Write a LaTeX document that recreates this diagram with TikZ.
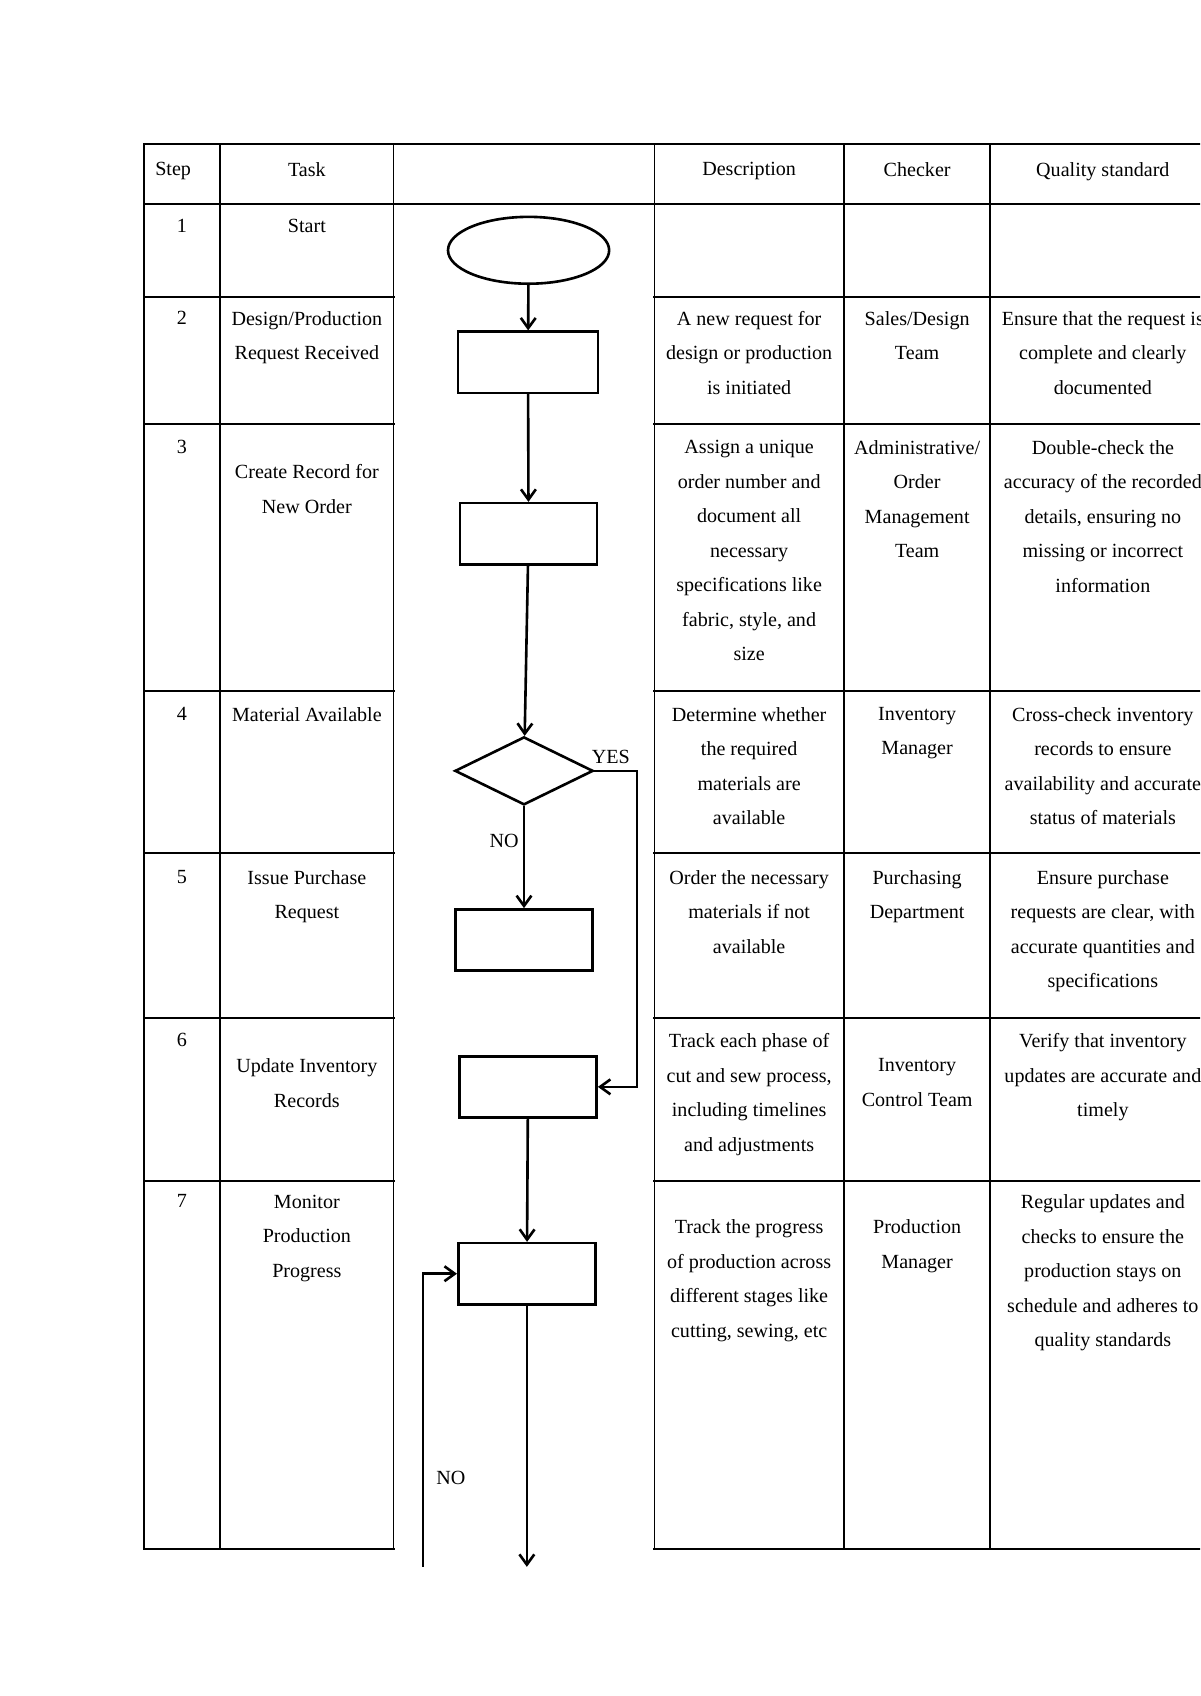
\documentclass[tikz,border=0pt]{standalone}
\usepackage{fontspec}
\setmainfont{Liberation Serif}
\usetikzlibrary{shapes.geometric, arrows.meta, positioning, shadows}

\begin{document}
\begin{tikzpicture}[
    >={Straight Barb[length=1.8mm,width=2.6mm]},
    grid/.style={line width=1.1pt, line cap=rect},
    lane/.style={line width=0.7pt},
    cell/.style={anchor=north, align=center, inner sep=0pt, font=\fontsize{10}{17.2}\selectfont},
    lbl/.style={inner sep=0pt, font=\fontsize{10}{12}\selectfont},
    proc/.style={draw, rectangle, line width=1.3pt, fill=white, minimum width=2.4cm, minimum height=1.07cm,
        drop shadow={opacity=0.12, shadow xshift=0.6pt, shadow yshift=-0.6pt}},
    term/.style={draw, ellipse, line width=1.3pt, fill=white, inner sep=0pt, minimum width=2.82cm, minimum height=1.17cm,
        drop shadow={opacity=0.12, shadow xshift=0.6pt, shadow yshift=-0.6pt}},
    decision/.style={draw, diamond, line width=1.3pt, fill=white, inner sep=0pt, minimum width=2.42cm, minimum height=1.19cm,
        drop shadow={opacity=0.12, shadow xshift=0.6pt, shadow yshift=-0.6pt}},
    flow/.style={->, line width=1.3pt}]

\useasboundingbox (0,0) rectangle (21,-29.68);
\clip (0,0) rectangle (21,-29.68);

% table
\draw[grid] (2.52,-2.52) -- (21.3,-2.52);
\draw[grid] (2.52,-3.57) -- (6.89,-3.57);
\draw[lane] (6.89,-3.57) -- (11.45,-3.57);
\draw[grid] (11.45,-3.57) -- (21.3,-3.57);
\foreach \y in {-5.20,-7.42,-12.09,-14.93,-17.82,-20.67,-27.11} {
    \draw[grid] (2.52,\y) -- (6.89,\y);
    \draw[grid] (11.45,\y) -- (21.3,\y);
}
\foreach \x in {2.52,3.85,14.77,17.33}
    \draw[grid] (\x,-2.52) -- (\x,-27.11);
\draw[lane] (6.89,-2.52) -- (6.89,-27.11);
\draw[lane] (11.45,-2.52) -- (11.45,-27.11);

% header
\node[cell] (hstep) at (3.03,-2.835) {Step};
\node[cell] (htask) at (5.37,-2.835) {Task};
\node[cell] (hdesc) at (13.11,-2.835) {Description};
\node[cell] (hcheck) at (16.05,-2.835) {Checker};
\node[cell] (hqual) at (19.30,-2.835) {Quality standard};

% step 1
\node[cell] (n1) at (3.185,-3.83) {1};
\node[cell] (t1) at (5.37,-3.83) {Start};

% step 2
\node[cell] (n2) at (3.185,-5.44) {2};
\node[cell] (t2) at (5.37,-5.44) {Design/Production\\Request Received};
\node[cell] (d2) at (13.11,-5.44) {A new request for\\design or production\\is initiated};
\node[cell] (c2) at (16.05,-5.44) {Sales/Design\\Team};
\node[cell] (q2) at (19.30,-5.44) {Ensure that the request is\\complete and clearly\\documented};

% step 3
\node[cell] (n3) at (3.185,-7.70) {3};
\node[cell] (t3) at (5.37,-8.12) {Create Record for\\New Order};
\node[cell] (d3) at (13.11,-7.70) {Assign a unique\\order number and\\document all\\necessary\\specifications like\\fabric, style, and\\size};
\node[cell] (c3) at (16.05,-7.70) {Administrative/\\Order\\Management\\Team};
\node[cell] (q3) at (19.30,-7.70) {Double-check the\\accuracy of the recorded\\details, ensuring no\\missing or incorrect\\information};

% step 4
\node[cell] (n4) at (3.185,-12.37) {4};
\node[cell] (t4) at (5.37,-12.37) {Material Available};
\node[cell] (d4) at (13.11,-12.37) {Determine whether\\the required\\materials are\\available};
\node[cell] (c4) at (16.05,-12.37) {Inventory\\Manager};
\node[cell] (q4) at (19.30,-12.37) {Cross-check inventory\\records to ensure\\availability and accurate\\status of materials};

% step 5
\node[cell] (n5) at (3.185,-15.22) {5};
\node[cell] (t5) at (5.37,-15.22) {Issue Purchase\\Request};
\node[cell] (d5) at (13.11,-15.22) {Order the necessary\\materials if not\\available};
\node[cell] (c5) at (16.05,-15.22) {Purchasing\\Department};
\node[cell] (q5) at (19.30,-15.22) {Ensure purchase\\requests are clear, with\\accurate quantities and\\specifications};

% step 6
\node[cell] (n6) at (3.185,-18.08) {6};
\node[cell] (t6) at (5.37,-18.52) {Update Inventory\\Records};
\node[cell] (d6) at (13.11,-18.08) {Track each phase of\\cut and sew process,\\including timelines\\and adjustments};
\node[cell] (c6) at (16.05,-18.52) {Inventory\\Control Team};
\node[cell] (q6) at (19.30,-18.08) {Verify that inventory\\updates are accurate and\\timely};

% step 7
\node[cell] (n7) at (3.185,-20.90) {7};
\node[cell] (t7) at (5.37,-20.90) {Monitor\\Production\\Progress};
\node[cell] (d7) at (13.11,-21.34) {Track the progress\\of production across\\different stages like\\cutting, sewing, etc};
\node[cell] (c7) at (16.05,-21.34) {Production\\Manager};
\node[cell] (q7) at (19.30,-20.90) {Regular updates and\\checks to ensure the\\production stays on\\schedule and adheres to\\quality standards};

% flowchart
\node[term] (start) at (9.25,-4.38) {};
\node[proc, minimum width=2.45cm] (recv) at (9.24,-6.34) {};
\node[proc] (record) at (9.25,-9.34) {};
\node[decision] (avail) at (9.17,-13.49) {};
\node[proc] (purchase) at (9.17,-16.45) {};
\node[proc] (update) at (9.24,-19.02) {};
\node[proc] (monitor) at (9.22,-22.29) {};

\coordinate (yesbend) at (11.15,-13.49);
\coordinate (outend) at (9.22,-27.42);
\coordinate (loopstart) at (7.40,-27.42);

\draw[flow] (start) -- (recv);
\draw[flow] (recv) -- (record);
\draw[flow] (record) -- (avail);
\draw[flow] (avail) -- (purchase);
\draw[flow] (avail.east) -- (yesbend) |- (update.east);
\draw[flow] (update) -- (monitor);
\draw[flow] (monitor) -- (outend);
\draw[flow] (loopstart) |- (monitor.west);

\node[lbl] (yes) at (10.69,-13.25) {YES};
\node[lbl] (no) at (8.82,-14.72) {NO};
\node[lbl] (noloop) at (7.89,-25.87) {NO};
\end{tikzpicture}
\end{document}
